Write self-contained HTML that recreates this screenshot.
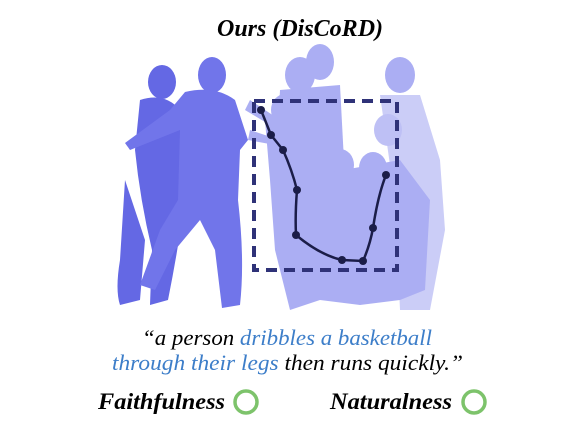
<!DOCTYPE html>
<html><head><style>
body{margin:0;background:#fff;width:568px;height:426px;overflow:hidden}
</style></head><body>
<svg width="568" height="426" viewBox="0 0 568 426" xmlns="http://www.w3.org/2000/svg">
<text x="300" y="36" text-anchor="middle" font-family="Liberation Serif, serif" font-style="italic" font-weight="bold" font-size="24">Ours (DisCoRD)</text>
<g fill="#6468e4">
<ellipse cx="162" cy="82" rx="14" ry="17"/>
<path d="M140 100 Q165 92 180 110 L185 200 Q178 250 168 300 L150 305 L152 250 Q140 200 135 150 Z"/>
<path d="M125 180 L120 260 Q115 290 120 305 L140 300 L145 240 Z"/>
</g>
<g fill="#7175ea">
<ellipse cx="212" cy="75" rx="14" ry="18"/>
<path d="M185 92 Q215 85 235 100 L248 140 L240 150 L238 200 Q245 260 240 305 L222 308 L215 250 L200 220 L175 250 L155 290 L140 285 L160 230 L178 200 L180 130 L130 150 L125 143 L170 110 Z"/>
</g>
<g fill="#a3a6f2" opacity="0.9">
<ellipse cx="320" cy="62" rx="14" ry="18"/>
<ellipse cx="300" cy="75" rx="15" ry="18"/>
<path d="M280 90 L340 85 L345 180 L320 200 L275 190 Z"/>
<ellipse cx="400" cy="75" rx="15" ry="18"/>
<path d="M380 95 L420 95 L440 160 L445 230 L430 310 L400 310 L395 200 Z" fill="#c6c8f7"/>
<ellipse cx="285" cy="110" rx="14" ry="16"/>
<ellipse cx="300" cy="140" rx="14" ry="16"/>
<path d="M265 120 L320 120 L330 230 L320 300 L290 310 L275 250 L270 180 Z"/>
<ellipse cx="340" cy="165" rx="14" ry="16"/>
<ellipse cx="373" cy="168" rx="14" ry="16"/>
<ellipse cx="388" cy="130" rx="14" ry="16" fill="#b8baf5"/>
<path d="M315 175 L400 160 L430 200 L425 290 L400 300 L360 305 L320 300 Z"/>
<path d="M250 100 L280 120 L270 125 L245 110 Z M250 130 L280 140 L275 145 L248 140 Z"/>
</g>
<rect x="254" y="101" width="143" height="169" fill="none" stroke="#2f3278" stroke-width="4" stroke-dasharray="11 7"/>
<path d="M261 110 L271 135 L283 150 Q292 170 297 190 Q295 215 296 235 Q320 255 342 260 L363 261 Q370 245 373 228 Q378 195 386 175" fill="none" stroke="#1b1d48" stroke-width="2.5"/>
<g fill="#1b1d48">
<circle cx="261" cy="110" r="4"/><circle cx="271" cy="135" r="4"/><circle cx="283" cy="150" r="4"/><circle cx="297" cy="190" r="4"/><circle cx="296" cy="235" r="4"/><circle cx="342" cy="260" r="4"/><circle cx="363" cy="261" r="4"/><circle cx="373" cy="228" r="4"/><circle cx="386" cy="175" r="4"/>
</g>
<g font-family="Liberation Serif, serif" font-style="italic" font-size="22">
<text x="142" y="345" textLength="290" lengthAdjust="spacingAndGlyphs">“a person <tspan fill="#3d7ec9">dribbles a basketball</tspan></text>
<text x="112" y="370" textLength="351" lengthAdjust="spacingAndGlyphs"><tspan fill="#3d7ec9">through their legs</tspan> then runs quickly.”</text>
</g>
<g font-family="Liberation Serif, serif" font-style="italic" font-weight="bold" font-size="23">
<text x="98" y="409" textLength="127" lengthAdjust="spacingAndGlyphs">Faithfulness</text>
<text x="330" y="409" textLength="122" lengthAdjust="spacingAndGlyphs">Naturalness</text>
</g>
<circle cx="246" cy="402" r="11" fill="none" stroke="#7dc36b" stroke-width="3.5"/>
<circle cx="474" cy="402" r="11" fill="none" stroke="#7dc36b" stroke-width="3.5"/>
</svg>
</body></html>
